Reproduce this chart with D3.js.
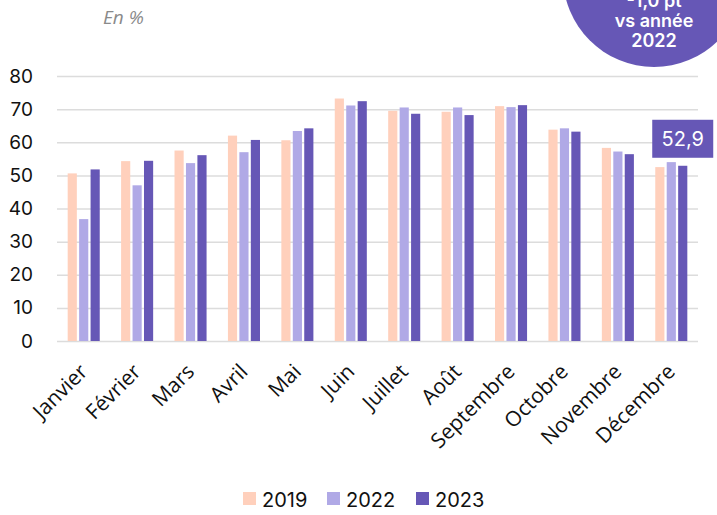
<!DOCTYPE html>
<html>
<head>
<meta charset="utf-8">
<script src="https://cdn.jsdelivr.net/npm/d3@7"></script>
<style>
  body { margin: 0; background: #fff; }
  svg text { font-family: "Inter", "Noto Sans", sans-serif; }
</style>
</head>
<body>
<svg id="chart" width="717" height="515"></svg>
<script>
const months = ["Janvier", "Février", "Mars", "Avril", "Mai", "Juin", "Juillet",
  "Août", "Septembre", "Octobre", "Novembre", "Décembre"];
const years = ["2019", "2022", "2023"];
const v2019 = [50.6, 54.3, 57.5, 62.0, 60.6, 73.2, 69.5, 69.2, 70.9, 63.8, 58.3, 52.5];
const v2022 = [36.8, 47.0, 53.7, 57.0, 63.4, 71.1, 70.5, 70.5, 70.6, 64.2, 57.2, 54.0];
const v2023 = [51.8, 54.4, 56.1, 60.7, 64.2, 72.4, 68.6, 68.2, 71.2, 63.2, 56.4, 52.9];
const yTicks = [0, 10, 20, 30, 40, 50, 60, 70, 80];
const badgeLines = ["-1,0 pt", "vs année", "2022"];
const colors = { "2019": "#ffd0bc", "2022": "#b0a9e6", "2023": "#6657b6" };

const series = { "2019": v2019, "2022": v2022, "2023": v2023 };
const rows = months.map((m, i) => ({ month: m, values: years.map(y => ({ year: y, value: series[y][i] })) }));

const svg = d3.select("#chart");
const margin = { top: 76, left: 57, right: 19, bottom: 174 };
const width = 717 - margin.left - margin.right;
const height = 515 - margin.top - margin.bottom;

const x = d3.scaleBand().domain(months).range([0, width]).paddingInner(0.4).paddingOuter(0.2);
const x1 = d3.scaleBand().domain(years).range([0, x.bandwidth()]).paddingInner(0.2).paddingOuter(0);
const y = d3.scaleLinear().domain([0, 80]).range([height, 0]);

const g = svg.append("g").attr("transform", `translate(${margin.left},${margin.top})`);

// grid
g.append("g")
  .call(d3.axisLeft(y).tickValues(yTicks).tickSize(-width).tickFormat(""))
  .call(a => a.select(".domain").remove())
  .call(a => a.selectAll("line").attr("stroke", "#dcdcdc").attr("stroke-width", 1.5));

// y labels
g.append("g")
  .call(d3.axisLeft(y).tickValues(yTicks).tickSize(0).tickPadding(24))
  .call(a => a.select(".domain").remove())
  .call(a => a.selectAll("text").attr("font-size", 19).attr("fill", "#111"));

// bars
g.append("g").selectAll("g")
  .data(rows).join("g")
  .attr("transform", d => `translate(${x(d.month)},0)`)
  .selectAll("rect")
  .data(d => d.values).join("rect")
  .attr("x", d => x1(d.year))
  .attr("width", x1.bandwidth())
  .attr("y", d => y(d.value))
  .attr("height", d => height - y(d.value))
  .attr("fill", d => colors[d.year]);

// x labels
g.append("g")
  .attr("transform", `translate(0,${height})`)
  .call(d3.axisBottom(x).tickSize(0).tickPadding(0))
  .call(a => a.select(".domain").remove())
  .call(a => a.selectAll("text")
    .style("font-family", "'Open Sans', sans-serif")
    .attr("font-size", 21)
    .attr("fill", "#111")
    .attr("text-anchor", "end")
    .attr("dy", 0)
    .attr("transform", "translate(5,32) rotate(-45)"));

// value callout on last bar
const last = rows[rows.length - 1];
const lv = v2023[v2023.length - 1];
const lx = x(last.month) + x1("2023") + x1.bandwidth() / 2;
const callout = g.append("g").attr("transform", `translate(${lx},${y(lv) - 27})`);
callout.append("rect").attr("x", -30.5).attr("y", -19).attr("width", 61).attr("height", 38).attr("fill", "#6657b6");
callout.append("text").attr("x", 0).attr("y", 7).attr("text-anchor", "middle")
  .attr("fill", "#fff").attr("font-size", 20).text(String(lv).replace(".", ","));

// subtitle
svg.append("text").attr("x", 103).attr("y", 24)
  .attr("font-size", 19).attr("font-style", "italic").attr("fill", "#8a8a8a")
  .style("font-family", "'Open Sans', sans-serif").text("En %");

// badge
const badge = svg.append("g").attr("transform", "translate(654,-24)");
badge.append("circle").attr("r", 91).attr("fill", "#6657b6");
badge.selectAll("text").data(badgeLines).join("text")
  .attr("y", (d, i) => 31 + i * 20)
  .attr("text-anchor", "middle").attr("fill", "#fff")
  .attr("font-size", 18).attr("font-weight", 600).text(d => d);

// legend
const legend = svg.append("g").attr("transform", "translate(243,492)");
const item = legend.selectAll("g").data(years).join("g")
  .attr("transform", (d, i) => `translate(${[0, 84, 173][i]},0)`);
item.append("rect").attr("width", 13).attr("height", 13).attr("fill", d => colors[d]);
item.append("text").attr("x", 19).attr("y", 15).attr("font-size", 20).attr("fill", "#111").text(d => d);
</script>
</body>
</html>
